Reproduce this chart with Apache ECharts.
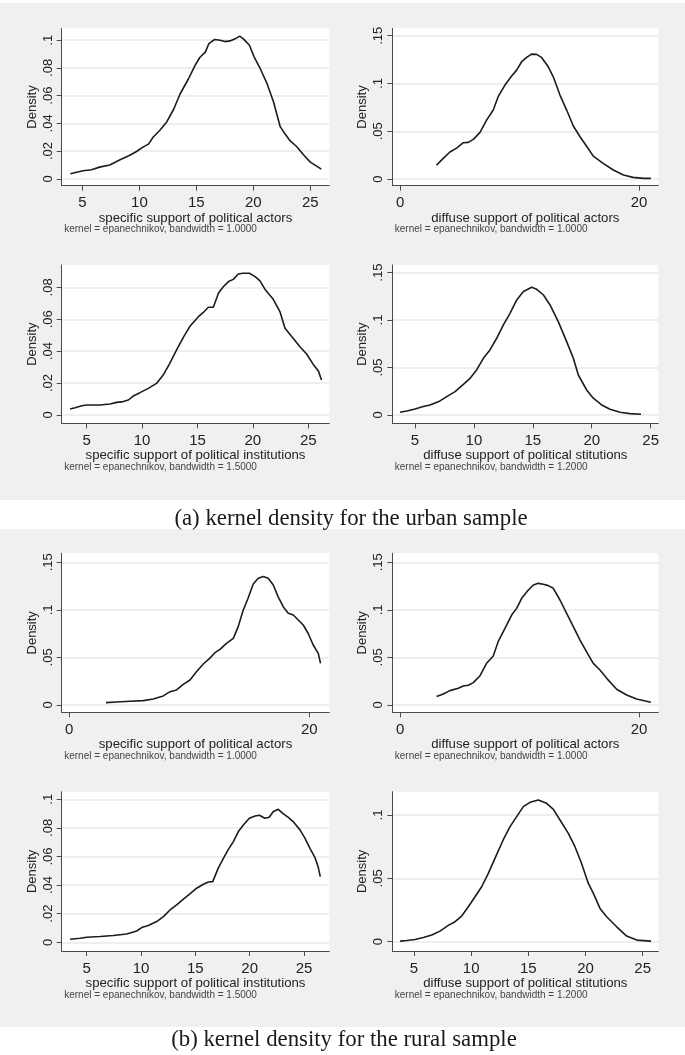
<!DOCTYPE html>
<html><head><meta charset="utf-8">
<script src="https://cdn.jsdelivr.net/npm/echarts@6/dist/echarts.min.js"></script>
<style>html,body{margin:0;padding:0;background:#fff}#c{width:685px;height:1055px}</style>
</head><body><div id="c"></div><script>
// ---------- data ----------
const p1x = [3.94,5.06,5.8,6.5,7.4,8.3,9.16,9.75,10.34,10.8,11.2,11.8,12.4,13.0,13.56,14.3,14.9,15.3,15.8,16.1,16.6,17.1,17.5,17.96,18.4,18.8,19.13,19.66,20.07,20.6,21.2,21.77,22.36,22.65,23.24,23.8,24.4,25.0,25.97];
const p1y = [0.0036,0.0058,0.0065,0.0084,0.010,0.0137,0.017,0.0197,0.023,0.025,0.030,0.035,0.041,0.050,0.061,0.072,0.082,0.0875,0.0916,0.0976,0.1005,0.100,0.099,0.0995,0.101,0.103,0.101,0.0964,0.088,0.0796,0.0688,0.0556,0.0376,0.034,0.0273,0.0233,0.0173,0.012,0.007];

const p2x = [3.04,3.6,4.16,4.72,5.28,5.7,6.12,6.68,7.23,7.79,8.2,8.77,9.33,9.75,10.17,10.59,11.0,11.42,11.84,12.4,12.82,13.38,13.94,14.5,15.06,15.6,16.17,17.0,17.85,18.7,19.5,20.4,21.0];
const p2y = [0.0146,0.0216,0.0283,0.0324,0.038,0.0384,0.0415,0.0488,0.0617,0.0722,0.0862,0.0984,0.1078,0.114,0.1228,0.1273,0.1308,0.1305,0.1273,0.1175,0.107,0.0879,0.0722,0.0555,0.0443,0.0345,0.024,0.0164,0.0094,0.0042,0.0017,0.0007,0.0007];

const p3x = [3.5,3.95,4.55,5.0,6.2,7.1,7.7,8.3,8.76,9.2,9.8,10.56,11.3,11.9,12.5,13.1,13.72,14.3,15.08,15.5,15.98,16.43,16.9,17.33,17.8,18.23,18.68,19.1,19.68,20.2,20.64,21.1,21.84,22.44,22.9,23.65,24.25,24.85,25.45,25.9,26.2];
const p3y = [0.0038,0.0046,0.0058,0.0063,0.0063,0.0069,0.0079,0.0084,0.0094,0.0119,0.014,0.0167,0.0198,0.025,0.0324,0.0407,0.0487,0.0554,0.0616,0.0641,0.0675,0.0675,0.0764,0.0804,0.0836,0.085,0.0884,0.0888,0.0888,0.0867,0.084,0.0787,0.0725,0.0648,0.0543,0.048,0.0428,0.0382,0.0317,0.0278,0.0219];

const p4x = [3.73,4.3,5.0,5.7,6.27,7.12,7.69,8.4,9.1,9.67,10.23,10.8,11.36,11.93,12.5,13.06,13.63,14.2,14.9,15.33,15.9,16.46,17.16,17.87,18.44,18.86,19.57,20.13,20.84,21.55,22.4,23.25,24.18];
const p4y = [0.0028,0.0042,0.0063,0.0088,0.0105,0.0148,0.0193,0.0246,0.0323,0.0386,0.0474,0.0597,0.0685,0.0808,0.0948,0.1071,0.1212,0.130,0.1345,0.1324,0.1264,0.1159,0.0983,0.0773,0.0597,0.0421,0.0263,0.0176,0.0105,0.006,0.0028,0.0014,0.0007];

const p5x = [3.06,3.94,5.06,6.17,7.0,7.83,8.4,8.94,9.5,10.06,10.6,11.17,11.7,12.14,12.56,13.1,13.67,14.08,14.5,14.9,15.33,15.75,16.17,16.58,17.0,17.4,17.83,18.25,18.67,19.08,19.5,19.9,20.33,20.75,20.94];
const p5y = [0.0025,0.0032,0.0039,0.0046,0.0063,0.0095,0.014,0.0158,0.0217,0.0263,0.035,0.0431,0.049,0.055,0.0585,0.0648,0.0701,0.0824,0.0999,0.1122,0.1272,0.1332,0.135,0.1332,0.1262,0.1139,0.1034,0.0964,0.0946,0.0894,0.0841,0.0754,0.0631,0.0543,0.0438];

const p6x = [3.04,3.6,4.16,4.86,5.28,5.7,6.12,6.68,7.23,7.79,8.2,8.77,9.33,9.75,10.17,10.73,11.15,11.56,11.98,12.4,12.82,13.38,13.94,14.5,15.06,15.6,16.17,16.73,17.3,18.13,18.97,19.8,21.0];
const p6y = [0.0088,0.0116,0.0151,0.0175,0.020,0.0207,0.0235,0.0308,0.0438,0.0515,0.0666,0.0806,0.0946,0.1016,0.1122,0.1209,0.1262,0.1279,0.1269,0.1255,0.1227,0.1104,0.0964,0.0824,0.0683,0.0561,0.0438,0.0368,0.028,0.0165,0.0105,0.0063,0.0028];

const p7x = [3.47,4.39,5.0,6.23,7.45,8.68,9.6,10.06,10.67,11.44,12.06,12.67,13.28,13.9,14.5,15.12,15.74,16.2,16.6,17.1,17.58,18.04,18.5,18.96,19.42,19.97,20.5,20.9,21.4,21.8,22.18,22.64,23.04,23.56,24.0,24.63,25.1,25.55,26.0,26.3,26.5];
const p7y = [0.0021,0.0028,0.0035,0.004,0.0047,0.0058,0.0079,0.0103,0.0117,0.0145,0.0179,0.0226,0.0261,0.0301,0.0338,0.0378,0.0406,0.0422,0.0424,0.0517,0.0587,0.065,0.0704,0.0774,0.082,0.0867,0.0883,0.0888,0.0867,0.0874,0.0914,0.093,0.0902,0.0874,0.0844,0.0786,0.0727,0.0657,0.0594,0.0529,0.0459];

const p8x = [3.78,4.36,5.09,5.82,6.55,7.27,8.0,8.59,9.17,9.75,10.34,10.92,11.5,12.08,12.8,13.4,13.98,14.56,15.15,15.87,16.6,17.19,17.77,18.5,19.08,19.66,20.25,20.69,21.27,21.85,22.73,23.6,24.48,25.73];
const p8y = [0.0005,0.001,0.0018,0.0034,0.0053,0.0084,0.0129,0.0158,0.0203,0.0276,0.0355,0.0434,0.0539,0.0658,0.0803,0.0908,0.0987,0.1066,0.11,0.1118,0.1092,0.1045,0.0961,0.0855,0.075,0.0618,0.046,0.0382,0.0263,0.0197,0.0118,0.0045,0.0013,0.0005];

const xTitles = ['specific support of political actors','diffuse support of political actors','specific support of political institutions','diffuse support of political stitutions','specific support of political actors','diffuse support of political actors','specific support of political institutions','diffuse support of political stitutions'];
const bandwidths = ['1.0000','1.0000','1.5000','1.2000','1.0000','1.0000','1.5000','1.2000'];
const yTitle = 'Density';
const captions = ['(a) kernel density for the urban sample','(b) kernel density for the rural sample'];

const xTicks5 = [5,10,15,20,25];
const xTicks0 = [0,20];
const yTicks02 = [0,0.02,0.04,0.06,0.08,0.1];
const yTicks02b = [0,0.02,0.04,0.06,0.08];
const yTicks05 = [0,0.05,0.1,0.15];
const yTicks05b = [0,0.05,0.1];

const seriesX = [p1x,p2x,p3x,p4x,p5x,p6x,p7x,p8x];
const seriesY = [p1y,p2y,p3y,p4y,p5y,p6y,p7y,p8y];
const xTickSets = [xTicks5,xTicks0,xTicks5,xTicks5,xTicks0,xTicks0,xTicks5,xTicks5];
const yTickSets = [yTicks02,yTicks05,yTicks02b,yTicks05,yTicks05,yTicks05,yTicks02,yTicks05b];

// ---------- layout ----------
const colL = [61.7, 267.6], colR = [392.3, 266];
const rows = [[28.3,185.7],[265,423.3],[553.3,712.3],[791.7,951]];
const ranges = [
  {x:[3.18,26.67], y:[-0.005,0.1086]},
  {x:[-0.67,21.62], y:[-0.007,0.1578]},
  {x:[2.74,26.9], y:[-0.0052,0.094]},
  {x:[3.07,25.65], y:[-0.0088,0.158]},
  {x:[-0.63,21.67], y:[-0.0077,0.1595]},
  {x:[-0.67,21.62], y:[-0.0077,0.1595]},
  {x:[2.7,27.33], y:[-0.0061,0.1053]},
  {x:[3.1,26.37], y:[-0.0073,0.1184]}
];
const FONT = '"Liberation Sans", Arial, sans-serif';
const SERIF = '"Liberation Serif", "Times New Roman", serif';
const axisCol = '#4a4a4a';
const fmtY = v => v === 0 ? '0' : String(+v.toFixed(4)).replace(/^0\./, '.');

const grids = [], xAxes = [], yAxes = [], series = [], graphics = [];
graphics.push({type:'rect', shape:{x:0,y:3,width:685,height:497}, style:{fill:'#eff0f0'}, z:-10});
graphics.push({type:'rect', shape:{x:0,y:529,width:685,height:498}, style:{fill:'#eff0f0'}, z:-10});
graphics.push({type:'text', style:{text:captions[0], x:351, y:519, textAlign:'center', textVerticalAlign:'middle', font:'22.8px ' + SERIF, fill:'#1a1a1a'}});
graphics.push({type:'text', style:{text:captions[1], x:344, y:1040, textAlign:'center', textVerticalAlign:'middle', font:'22.8px ' + SERIF, fill:'#1a1a1a'}});

for (let i = 0; i < 8; i++) {
  const col = (i % 2 === 0) ? colL : colR;
  const row = rows[Math.floor(i / 2)];
  grids.push({left: col[0], top: row[0], width: col[1], height: row[1] - row[0],
    show: true, backgroundColor: '#ffffff', borderWidth: 0, containLabel: false});
  xAxes.push({type:'value', gridIndex:i, min:ranges[i].x[0], max:ranges[i].x[1],
    name: xTitles[i], nameLocation:'middle', nameGap:22,
    nameTextStyle:{fontFamily:FONT, fontSize:13.2, color:'#222'},
    axisLine:{show:true, onZero:false, lineStyle:{color:axisCol, width:1}},
    axisTick:{show:true, length:5, customValues: xTickSets[i], lineStyle:{color:axisCol}},
    axisLabel:{customValues: xTickSets[i], margin:10, fontFamily:FONT, fontSize:15, color:'#222', showMinLabel:true, showMaxLabel:true},
    splitLine:{show:false}});
  yAxes.push({type:'value', gridIndex:i, min:ranges[i].y[0], max:ranges[i].y[1],
    name: yTitle, nameLocation:'middle', nameGap:23,
    nameTextStyle:{fontFamily:FONT, fontSize:13, color:'#222'},
    axisLine:{show:true, onZero:false, lineStyle:{color:axisCol, width:1}},
    axisTick:{show:true, length:5, customValues: yTickSets[i], lineStyle:{color:axisCol}},
    axisLabel:{customValues: yTickSets[i], rotate:90, margin:7, fontFamily:FONT, fontSize:13, color:'#222', formatter: fmtY},
    splitLine:{show:true, lineStyle:{color:'#e7e9e9', width:1.6}}});
  series.push({type:'line', xAxisIndex:i, yAxisIndex:i, showSymbol:false, symbol:'none',
    data: seriesX[i].map((x, k) => [x, seriesY[i][k]]),
    lineStyle:{color:'#1c1c1c', width:1.6}, clip:false, silent:true, animation:false});
  graphics.push({type:'text', style:{text:'kernel = epanechnikov, bandwidth = ' + bandwidths[i],
    x: col[0] + 2.5, y: row[1] + 44, textAlign:'left', textVerticalAlign:'middle',
    font:'10px ' + FONT, fill:'#444'}});
}

const chart = echarts.init(document.getElementById('c'), null, {renderer:'canvas'});
chart.setOption({animation:false, backgroundColor:'#ffffff', grid:grids, xAxis:xAxes, yAxis:yAxes, series:series, graphic:graphics});
</script></body></html>
